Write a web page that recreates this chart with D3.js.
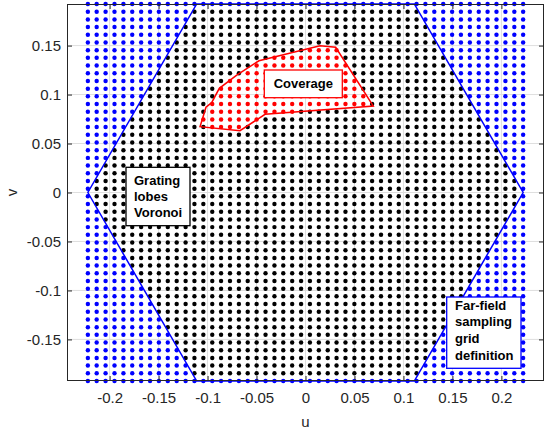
<!DOCTYPE html>
<html><head><meta charset="utf-8">
<script src="https://cdn.jsdelivr.net/npm/d3@7"></script>
<style>body{margin:0;background:#fff} svg{display:block;font-family:"Liberation Sans",Arial,Helvetica,sans-serif}</style>
</head><body><svg id="c" width="548" height="432"></svg>
<script>
// ---- data ----
const uGrid = [-0.2222,-0.2132,-0.2041,-0.1950,-0.1859,-0.1769,-0.1678,-0.1587,-0.1497,-0.1406,
  -0.1315,-0.1224,-0.1134,-0.1043,-0.0952,-0.0862,-0.0771,-0.0680,-0.0590,-0.0499,
  -0.0408,-0.0317,-0.0227,-0.0136,-0.0045,0.0045,0.0136,0.0227,0.0317,0.0408,
  0.0499,0.0590,0.0680,0.0771,0.0862,0.0952,0.1043,0.1134,0.1224,0.1315,
  0.1406,0.1497,0.1587,0.1678,0.1769,0.1859,0.1950,0.2041,0.2132,0.2222];
const vGrid = [-0.1925,-0.1846,-0.1767,-0.1689,-0.1610,-0.1532,-0.1453,-0.1375,-0.1296,-0.1218,
  -0.1139,-0.1060,-0.0982,-0.0903,-0.0825,-0.0746,-0.0668,-0.0589,-0.0511,-0.0432,
  -0.0353,-0.0275,-0.0196,-0.0118,-0.0039,0.0039,0.0118,0.0196,0.0275,0.0353,
  0.0432,0.0511,0.0589,0.0668,0.0746,0.0825,0.0903,0.0982,0.1060,0.1139,
  0.1218,0.1296,0.1375,0.1453,0.1532,0.1610,0.1689,0.1767,0.1846,0.1925];
const hexagon = [[-0.2222,0],[-0.1111,-0.19245],[0.1111,-0.19245],[0.2222,0],[0.1111,0.19245],[-0.1111,0.19245]];
const coverage = [[-0.1077,0.0672],[-0.1016,0.0870],[-0.0958,0.0917],[-0.0880,0.1064],[-0.0702,0.1199],
  [-0.0475,0.1345],[0.0148,0.1499],[0.0308,0.1483],[0.0692,0.0883],[-0.0413,0.0798],[-0.0669,0.0631]];
const xTicks = [-0.2,-0.15,-0.1,-0.05,0,0.05,0.1,0.15,0.2];
const yTicks = [-0.15,-0.1,-0.05,0,0.05,0.1,0.15];
const xLimits = [-0.2435,0.2435];
const yLimits = [-0.19245,0.19245];
const labelCoverage = ["Coverage"];
const labelGrating = ["Grating","lobes","Voronoi"];
const labelGrid = ["Far-field","sampling","grid","definition"];

// ---- layout ----
const L=67, R=544, T=4, B=381;
const x = d3.scaleLinear().domain(xLimits).range([L,R]);
const y = d3.scaleLinear().domain(yLimits).range([B,T]);
const svg = d3.select("#c");
const axisColor = "#262626";
const fmt = d => String(+d.toFixed(2));

// grid lines
const g = svg.append("g");
g.selectAll(".gx").data(xTicks).join("line")
  .attr("x1",d=>x(d)).attr("x2",d=>x(d)).attr("y1",T).attr("y2",B)
  .attr("stroke","#dfdfdf").attr("stroke-width",1);
g.selectAll(".gy").data(yTicks).join("line")
  .attr("y1",d=>y(d)).attr("y2",d=>y(d)).attr("x1",L).attr("x2",R)
  .attr("stroke","#dfdfdf").attr("stroke-width",1);

// points
const pts = [];
uGrid.forEach(u => vGrid.forEach(v => pts.push([u,v])));
function inHex(p){
  const u=p[0], v=p[1], Rr=0.2222, h=0.19245;
  if (Math.abs(v) > h + 1e-6) return false;
  return Math.abs(u) <= Rr - Math.abs(v)/Math.sqrt(3) + 1e-6;
}
const colorOf = p => d3.polygonContains(coverage,p) ? "#ff0000" : (inHex(p) ? "#000000" : "#0000ff");
const order = {"#0000ff":0,"#000000":1,"#ff0000":2};
pts.sort((a,b)=>order[colorOf(a)]-order[colorOf(b)]);
svg.append("g").selectAll("circle").data(pts).join("circle")
  .attr("cx",d=>x(d[0])).attr("cy",d=>y(d[1])).attr("r",2.2)
  .attr("fill",d=>colorOf(d));

// lines
const line = d3.line().x(d=>x(d[0])).y(d=>y(d[1])).curve(d3.curveLinearClosed);
svg.append("path").attr("d",line(hexagon)).attr("fill","none").attr("stroke","#0000ff").attr("stroke-width",1.5);
svg.append("path").attr("d",line(coverage)).attr("fill","none").attr("stroke","#ff0000").attr("stroke-width",1.5);

// axes
function styleAxis(sel){
  sel.select(".domain").remove();
  sel.selectAll("line").attr("stroke",axisColor);
  sel.selectAll("text").attr("fill",axisColor).style("font-size","15px").style("font-family",'"Liberation Sans",Arial,sans-serif');
}
svg.append("g").attr("transform",`translate(0,${B})`)
  .call(d3.axisBottom(x).tickValues(xTicks).tickFormat(fmt).tickSizeInner(-5).tickSizeOuter(0).tickPadding(11)).call(styleAxis);
svg.append("g").attr("transform",`translate(0,${T})`)
  .call(d3.axisTop(x).tickValues(xTicks).tickFormat("").tickSizeInner(-5).tickSizeOuter(0)).call(styleAxis);
svg.append("g").attr("transform",`translate(${L},0)`)
  .call(d3.axisLeft(y).tickValues(yTicks).tickFormat(fmt).tickSizeInner(-5).tickSizeOuter(0).tickPadding(6)).call(styleAxis);
svg.append("g").attr("transform",`translate(${R},0)`)
  .call(d3.axisRight(y).tickValues(yTicks).tickFormat("").tickSizeInner(-5).tickSizeOuter(0)).call(styleAxis);
svg.append("rect").attr("x",L+0.5).attr("y",T+0.5).attr("width",R-L-1).attr("height",B-T-1)
  .attr("fill","none").attr("stroke",axisColor).attr("stroke-width",1);

// axis labels
svg.append("text").attr("x",(L+R)/2).attr("y",427).attr("text-anchor","middle")
  .attr("fill",axisColor).style("font-size","15px").text("u");
svg.append("text").attr("transform",`translate(17,${(T+B)/2}) rotate(-90)`).attr("text-anchor","middle")
  .attr("fill",axisColor).style("font-size","15px").text("v");

// annotation boxes
function box(x0,y0,x1,y1,color,lines,tx,ty0,dy,anchor){
  const gg = svg.append("g");
  gg.append("rect").attr("x",x0).attr("y",y0).attr("width",x1-x0).attr("height",y1-y0)
    .attr("fill","#fff").attr("stroke",color).attr("stroke-width",1.3);
  gg.selectAll("text").data(lines).join("text")
    .attr("x",tx).attr("y",(d,i)=>ty0+i*dy).attr("text-anchor",anchor)
    .style("font-size","13px").style("font-weight","bold").attr("fill","#000").text(d=>d);
}
box(264.3,70,342.3,97.7,"#ff0000",labelCoverage,303.3,88,0,"middle");
box(126,167.3,190,225.7,"#000000",labelGrating,134,185,16,"start");
box(446.7,297,521,368.3,"#0000ff",labelGrid,455,309.5,16.8,"start");
</script></body></html>
